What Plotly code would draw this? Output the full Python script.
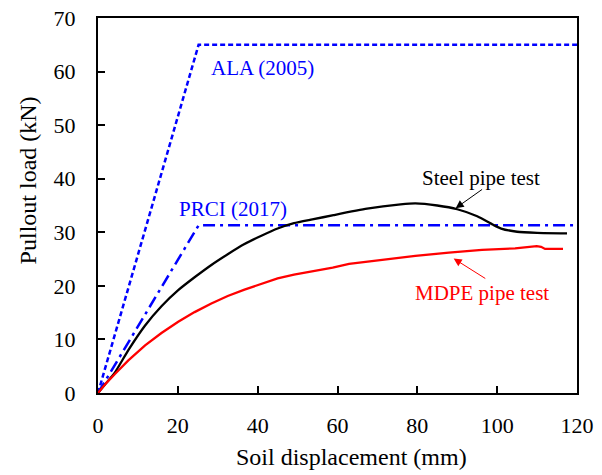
import plotly.graph_objects as go

# ---- data ----
ala_x = [0, 25.2, 120]
ala_y = [0, 65, 65]

prci_x = [0, 25.2, 120]
prci_y = [0, 31.3, 31.3]

steel_x = [0, 2, 4.3, 7.6, 11.8, 15.9, 20.1, 24.2, 28.4, 32.5, 36.7, 40.8, 45, 49.1,
           53.7, 59, 67.4, 75.8, 79.5, 85, 90, 95, 99, 101, 105, 110, 117.5]
steel_y = [0, 1.8, 3.9, 8.0, 12.6, 16.2, 19.2, 21.6, 23.9, 25.9, 27.8, 29.3, 30.7, 31.7,
           32.4, 33.2, 34.4, 35.2, 35.4, 35.0, 34.3, 33.0, 31.4, 30.7, 30.1, 29.9, 29.8]

mdpe_x = [0, 2, 4.3, 7.6, 11.8, 15.9, 20.1, 24.2, 28.4, 32.5, 36.7, 40.8, 45, 49.1,
          53.7, 58.8, 62.9, 71.2, 79.5, 87.9, 96.2, 104.5, 109.9, 111, 112, 116.5]
mdpe_y = [0, 1.8, 3.6, 6.1, 8.9, 11.2, 13.3, 15.1, 16.7, 18.1, 19.3, 20.4, 21.4, 22.1,
          22.7, 23.4, 24.1, 24.9, 25.6, 26.2, 26.7, 27.0, 27.4, 27.3, 26.9, 26.9]

x_ticks = [0, 20, 40, 60, 80, 100, 120]
y_ticks = [0, 10, 20, 30, 40, 50, 60, 70]

x_title = "Soil displacement (mm)"
y_title = "Pullout load (kN)"

FONT = "Times New Roman, Liberation Serif, serif"
BLUE = "#0000FF"

fig = go.Figure()
fig.add_trace(go.Scatter(x=ala_x, y=ala_y, mode="lines",
                         line=dict(color=BLUE, width=2.5, dash="5px,3px")))
fig.add_trace(go.Scatter(x=prci_x, y=prci_y, mode="lines",
                         line=dict(color=BLUE, width=2.5, dash="12px,5px,3px,5px")))
fig.add_trace(go.Scatter(x=steel_x, y=steel_y, mode="lines",
                         line=dict(color="black", width=2.3, shape="spline", smoothing=0.5)))
fig.add_trace(go.Scatter(x=mdpe_x, y=mdpe_y, mode="lines",
                         line=dict(color="#FF0000", width=2.3)))

# text labels
fig.add_annotation(x=41.3, y=60.6, text="ALA (2005)", showarrow=False,
                   font=dict(family=FONT, size=21, color=BLUE))
fig.add_annotation(x=33.8, y=34.3, text="PRCI (2017)", showarrow=False,
                   font=dict(family=FONT, size=21, color=BLUE))
fig.add_annotation(x=96, y=40.2, text="Steel pipe test", showarrow=False,
                   font=dict(family=FONT, size=21, color="black"))
fig.add_annotation(x=96.3, y=18.7, text="MDPE pipe test", showarrow=False,
                   font=dict(family=FONT, size=21, color="#FF0000"))

# arrows
fig.add_annotation(x=89.6, y=34.5, ax=96.6, ay=38.2, xref="x", yref="y",
                   axref="x", ayref="y", text="", showarrow=True,
                   arrowhead=2, arrowsize=1.6, arrowwidth=1, arrowcolor="black")
fig.add_annotation(x=89.1, y=25.1, ax=97.4, ay=21.2, xref="x", yref="y",
                   axref="x", ayref="y", text="", showarrow=True,
                   arrowhead=2, arrowsize=1.6, arrowwidth=1, arrowcolor="#FF0000")

# axis titles (placed as annotations to match the offset positions)
fig.add_annotation(x=0.529, y=0, xref="paper", yref="paper", text=x_title,
                   showarrow=False, xanchor="center", yanchor="top", yshift=-49,
                   font=dict(family=FONT, size=24, color="black"))
fig.add_annotation(x=0, y=0.567, xref="paper", yref="paper", text=y_title,
                   showarrow=False, xanchor="center", yanchor="middle", xshift=-70,
                   textangle=-90, font=dict(family=FONT, size=24, color="black"))

fig.update_layout(
    template="none",
    width=602, height=475,
    margin=dict(l=98, r=25, t=18, b=82),
    paper_bgcolor="white", plot_bgcolor="white",
    showlegend=False,
    font=dict(family=FONT, size=22, color="black"),
)
fig.update_xaxes(range=[0, 120], tickvals=x_ticks, ticks="inside", ticklen=7,
                 tickwidth=2, tickcolor="black", showline=True, linewidth=2,
                 linecolor="black", mirror=True, showgrid=False, zeroline=False,
                 automargin=False, ticklabelstandoff=12)
fig.update_yaxes(range=[0, 70], tickvals=y_ticks, ticks="inside", ticklen=7,
                 tickwidth=2, tickcolor="black", showline=True, linewidth=2,
                 linecolor="black", mirror=True, showgrid=False, zeroline=False,
                 automargin=False, ticklabelstandoff=16)

fig.write_html("out.html")
